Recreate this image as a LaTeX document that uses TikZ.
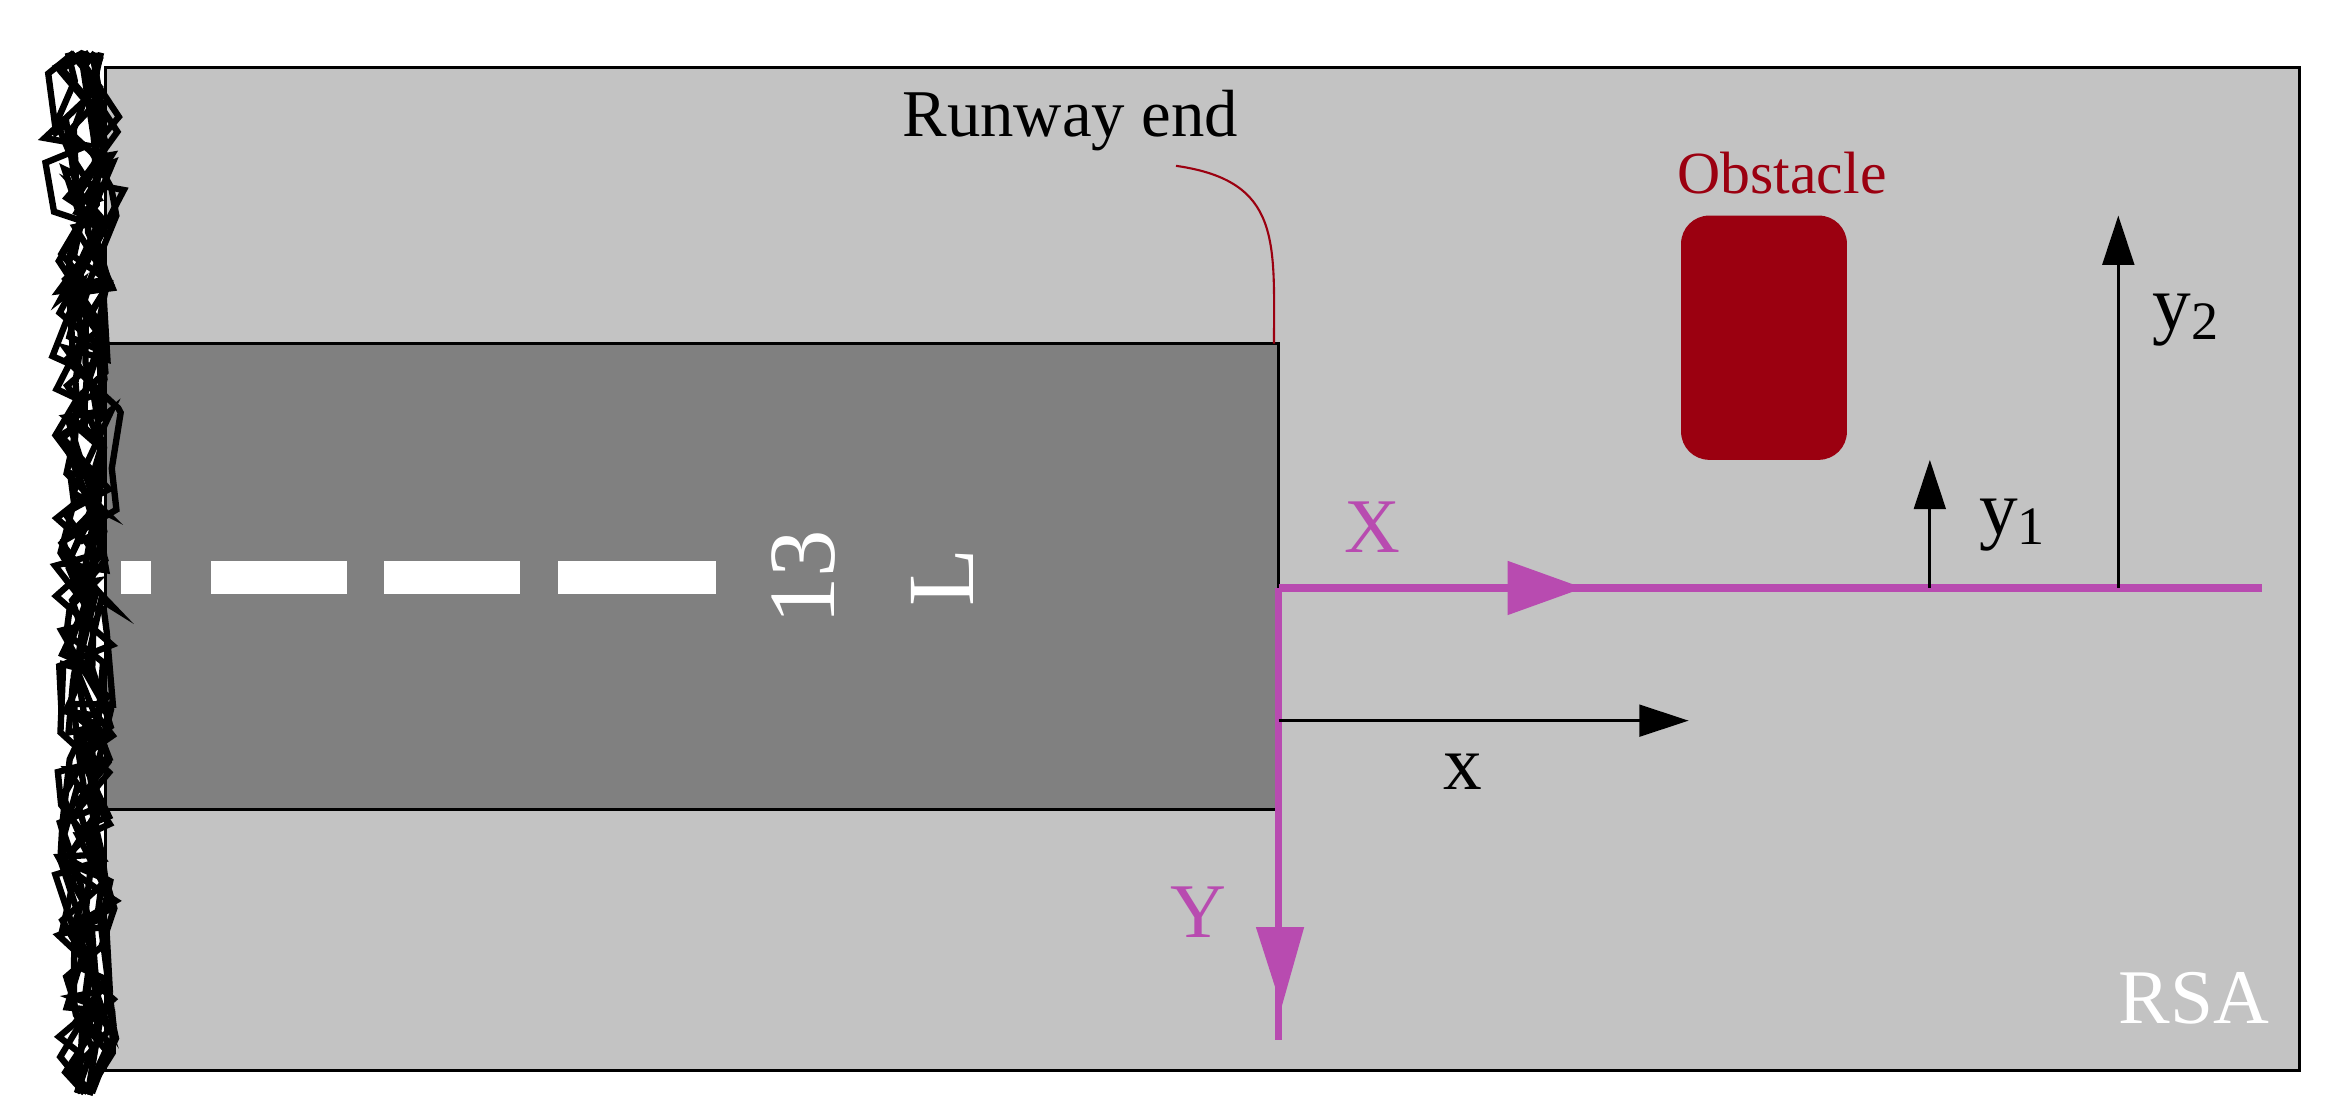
\documentclass[tikz,border=0pt]{standalone}
\usepackage{fontspec}
\setmainfont{Liberation Serif}
\usetikzlibrary{decorations.pathmorphing,arrows.meta}
\definecolor{rsa}{HTML}{C3C3C3}
\definecolor{rwy}{HTML}{808080}
\definecolor{mag}{HTML}{B84BB0}
\definecolor{obs}{HTML}{9B0010}
\begin{document}
\begin{tikzpicture}[x=0.01508cm,y=-0.01508cm,
  magline/.style={mag,line width=2.2pt},
  magtip/.style={mag,fill=mag},
  blk/.style={black,line width=0.8pt,-{Triangle[length=14pt,width=9pt]}},
  lbl/.style={font=\fontsize{22}{24}\selectfont}]
\useasboundingbox (0,0) rectangle (1560,738);
\fill[white] (0,0) rectangle (1560,738);
\draw[fill=rsa,line width=0.8pt] (70,45) rectangle (1525,710);
\draw[fill=rwy,line width=0.8pt] (70,228) rectangle (848,537);
% dashes
\foreach \a/\b in {80/100,140/230,255/345,370/475}
  \fill[white] (\a,372) rectangle (\b,394);
\node[rotate=90,white,font=\fontsize{27}{28}\selectfont] (n13) at (533,383) {13};
\node[rotate=90,white,font=\fontsize{27}{28}\selectfont] (nL) at (625,383) {L};
% runway end label
\node[font=\fontsize{19}{20}\selectfont] (re) at (710,80) {Runway end};
\coordinate (ree) at (845,228);
\draw[obs,line width=0.6pt] (780,110) .. controls (850,120) and (845,160) .. (ree);
% obstacle
\fill[obs,rounded corners=8pt] (1115,143) rectangle (1225,305);
\node[obs,font=\fontsize{17}{18}\selectfont] (obl) at (1182,115) {Obstacle};
% magenta axes
\coordinate (o) at (848,390);
\coordinate (xe) at (1500,390);
\coordinate (ye) at (848,690);
\draw[magline] (o) -- (xe);
\draw[magline] (o) -- (ye);
\fill[magtip] (1000,372) -- (1050,390) -- (1000,408) -- cycle;
\fill[magtip] (833,615) -- (850,668) -- (865,615) -- cycle;
\node[mag,lbl] (X) at (910,350) {X};
\node[mag,lbl] (Y) at (795,605) {Y};
% x
\coordinate (xs) at (848,478);
\coordinate (xt) at (1120,478);
\draw[blk] (xs) -- (xt);
\node[lbl] (xl) at (970,512) {x};
% y1,y2
\coordinate (y1s) at (1280,390);
\coordinate (y1t) at (1280,305);
\draw[blk] (y1s) -- (y1t);
\node[lbl] (y1l) at (1335,348) {y\textsubscript{1}};
\coordinate (y2s) at (1405,390);
\coordinate (y2t) at (1405,143);
\draw[blk] (y2s) -- (y2t);
\node[lbl] (y2l) at (1450,212) {y\textsubscript{2}};
\node[white,lbl] (rsa) at (1455,662) {RSA};
% rough left edge
\pgfmathsetseed{7}
\foreach \s in {0,...,11}
  \draw[line width=1.8pt,decorate,decoration={random steps,segment length=9pt,amplitude=8pt}] (45+\s*2,35) -- (62-\s,725);
\end{tikzpicture}
\end{document}
